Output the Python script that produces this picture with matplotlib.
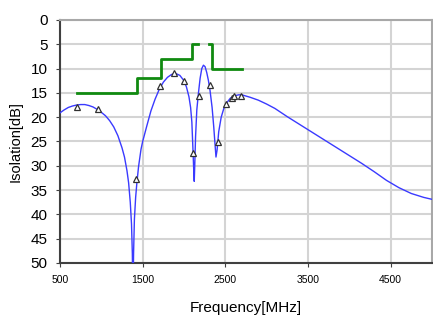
import matplotlib
matplotlib.use("Agg")
import matplotlib.pyplot as plt

plt.rcParams['font.family'] = ['Liberation Sans', 'DejaVu Sans']

# simulated isolation curve
freq = [500, 550, 600, 650, 700, 750, 800, 850, 900, 950, 1000, 1050, 1100, 1150,
        1200, 1250, 1280, 1310, 1330, 1350, 1365, 1375, 1382, 1390, 1400, 1415,
        1430, 1450, 1480, 1500, 1550, 1600, 1650, 1700, 1750, 1800, 1850, 1900,
        1950, 2000, 2030, 2060, 2080, 2095, 2108, 2118, 2124, 2130, 2140, 2155,
        2175, 2195, 2215, 2235, 2255, 2275, 2295, 2315, 2340, 2360, 2375, 2387,
        2400, 2420, 2450, 2480, 2510, 2560, 2610, 2660, 2700, 2800, 2900, 3000,
        3100, 3250, 3400, 3550, 3700, 3850, 4000, 4150, 4300, 4450, 4600, 4750,
        4900, 5000]
iso = [19.1, 18.5, 18.0, 17.7, 17.5, 17.4, 17.4, 17.6, 17.9, 18.4, 19.0, 19.7, 20.7, 22.0,
       23.8, 26.3, 28.2, 31.0, 33.5, 37.5, 42.0, 48.0, 58.0, 48.0, 41.0, 36.5,
       33.5, 30.2, 26.6, 25.0, 21.8, 18.7, 16.3, 14.3, 12.8, 11.8, 11.2, 11.0,
       11.4, 12.5, 13.8, 15.8, 18.0, 21.0, 26.5, 31.0, 33.2, 30.0, 24.0, 18.5,
       15.0, 12.0, 10.0, 9.3, 9.6, 10.8, 12.4, 14.5, 18.0, 22.0, 25.5, 28.2,
       26.8, 23.0, 20.0, 18.3, 17.2, 16.1, 15.6, 15.4, 15.4, 15.9, 16.5, 17.3,
       18.2, 19.9, 21.5, 23.1, 24.7, 26.3, 27.9, 29.5, 31.2, 33.0, 34.5, 35.7,
       36.5, 36.9]

# measured points (triangles)
meas_freq = [700, 957, 1421, 1712, 1882, 1994, 2108, 2176, 2310, 2407, 2510, 2575, 2610, 2690]
meas_iso = [17.8, 18.4, 32.8, 13.6, 11.0, 12.5, 27.4, 15.6, 13.4, 25.2, 17.3, 16.0, 15.6, 15.6]

# spec mask
spec1_freq = [700, 1430, 1430, 1720, 1720, 2100, 2100, 2170]
spec1_iso = [15, 15, 12, 12, 8, 8, 5, 5]
spec2_freq = [2300, 2340, 2340, 2700]
spec2_iso = [5, 5, 10, 10]

fig = plt.figure(figsize=(4.33, 3.21), dpi=100)
ax = fig.add_axes([0.1386, 0.1807, 0.8590, 0.7570])

ax.plot(freq, iso, color='#3a3aff', lw=1.0, zorder=3)
ax.plot(spec1_freq, spec1_iso, color='#108a10', lw=2.0, zorder=3)
ax.plot(spec2_freq, spec2_iso, color='#108a10', lw=2.0, zorder=3)
ax.plot(meas_freq, meas_iso, ls='none', marker='^', ms=5, mfc='white',
        mec='#303030', mew=0.9, zorder=4)

ax.set_xlim(500, 5000)
ax.set_ylim(50, 0)
ax.set_xticks([500, 1500, 2500, 3500, 4500])
ax.set_yticks(range(0, 51, 5))
ax.grid(True, color='#d4d4d4', lw=1.5)
ax.set_axisbelow(True)

ax.tick_params(axis='x', labelsize=7.5, length=3, color='#404040', pad=6)
ax.tick_params(axis='y', labelsize=11, length=3, color='#404040', pad=6)

for s in ['left', 'bottom']:
    ax.spines[s].set_color('#404040')
    ax.spines[s].set_linewidth(1.5)
for s in ['top', 'right']:
    ax.spines[s].set_color('#a8a8a8')
    ax.spines[s].set_linewidth(1.5)

ax.set_xlabel('Frequency[MHz]', fontsize=11, labelpad=11)
ax.set_ylabel('Isolation[dB]', fontsize=10.5, labelpad=6)

fig.savefig('out.png', dpi=100)
